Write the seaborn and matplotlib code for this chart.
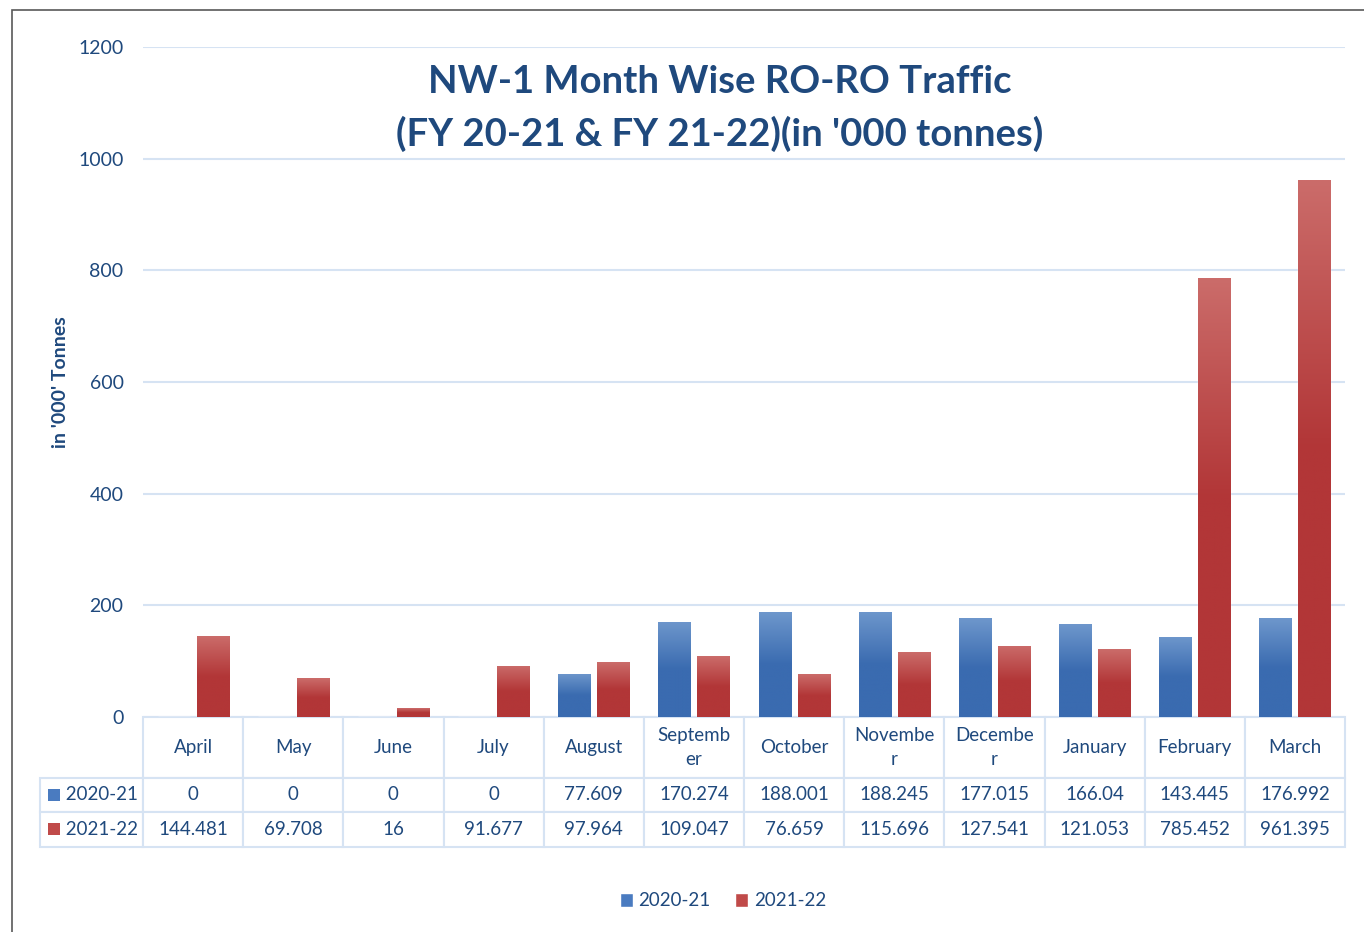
import numpy as np
import matplotlib.pyplot as plt
import matplotlib.colors as mcolors
from matplotlib.patches import Rectangle, Patch
import pandas as pd
import seaborn as sns

# chart data
months = ['April', 'May', 'June', 'July', 'August', 'September', 'October',
          'November', 'December', 'January', 'February', 'March']
month_labels = ['April', 'May', 'June', 'July', 'August', 'Septemb\ner', 'October',
                'Novembe\nr', 'Decembe\nr', 'January', 'February', 'March']
fy_2020_21 = [0, 0, 0, 0, 77.609, 170.274, 188.001, 188.245, 177.015, 166.04, 143.445, 176.992]
fy_2021_22 = [144.481, 69.708, 16, 91.677, 97.964, 109.047, 76.659, 115.696, 127.541, 121.053, 785.452, 961.395]
series = ['2020-21', '2021-22']
y_ticks = [0, 200, 400, 600, 800, 1000, 1200]

txt = '#1F497D'
grid_c = '#D6E3F3'
blue_top, blue_bot = '#6E97CC', '#3A6BB0'
red_top, red_bot = '#CB6C6A', '#B23637'

sns.set_theme(style='white')
plt.rcParams['font.family'] = ['Lato', 'DejaVu Sans']

df = pd.DataFrame({
    'month': months * 2,
    'value': fy_2020_21 + fy_2021_22,
    'series': [series[0]] * 12 + [series[1]] * 12,
})

fig = plt.figure(figsize=(13.64, 9.32), dpi=100)
ax = fig.add_axes([143 / 1364, 1 - 717 / 932, 1202 / 1364, 670 / 932])

sns.barplot(data=df, x='month', y='value', hue='series', order=months,
            palette=[blue_bot, red_bot], saturation=1, width=0.78, gap=0.18,
            legend=False, ax=ax)

# vertical gradient fill on each bar
def grad(top, bot):
    return mcolors.LinearSegmentedColormap.from_list('g', [bot, bot, top])

g = np.linspace(0, 1, 256).reshape(-1, 1)
for cont, cm in zip(ax.containers, [grad(blue_top, blue_bot), grad(red_top, red_bot)]):
    for p in cont.patches:
        h = p.get_height()
        if h <= 0:
            continue
        x0 = p.get_x()
        im = ax.imshow(g, cmap=cm, origin='lower', aspect='auto',
                       extent=[x0, x0 + p.get_width(), 0, h], zorder=p.get_zorder() + 0.1)
        im.set_clip_path(p)

ax.set_xlim(-0.5, 11.5)
ax.set_ylim(0, 1200)
ax.set_yticks(y_ticks)
ax.set_xticks([])
ax.set_xlabel('')
ax.set_ylabel('')
ax.tick_params(axis='y', length=0, pad=14, labelsize=14, labelcolor=txt)
for s in ax.spines.values():
    s.set_visible(False)
ax.grid(axis='y', color=grid_c, linewidth=1.5)
ax.set_axisbelow(True)

# data table below the plot
cells = [[''] + month_labels,
         ['     ' + series[0]] + [f'{v:g}' for v in fy_2020_21],
         ['     ' + series[1]] + [f'{v:g}' for v in fy_2021_22]]
lab_w = 103 / 1202
col_w = 1 / 12
tb = ax.table(cellText=cells, cellLoc='center',
              colWidths=[lab_w] + [col_w] * 12,
              bbox=[-lab_w, -130 / 670, 1 + lab_w, 130 / 670])
tb.auto_set_font_size(False)
row_h = [61 / 130, 34 / 130, 35 / 130]
for (r, c), cell in tb.get_celld().items():
    cell.set_edgecolor(grid_c)
    cell.set_linewidth(1.5)
    cell.set_height(row_h[r] * 130 / 670)
    cell.get_text().set_color(txt)
    cell.get_text().set_fontsize(13.5)
    cell.get_text().set_linespacing(1.45)
    if c == 0:
        cell.get_text().set_horizontalalignment('left')
        cell.PAD = 0.02
    if r == 0 and c == 0:
        cell.visible_edges = ''

# little series keys in the table row labels
for i, yc in enumerate([-(778 - 717 + 17) / 670, -(812 - 717 + 17) / 670]):
    kc = ['#4A7BC0', '#C04A49'][i]
    ax.add_patch(Rectangle((-95 / 1202, yc - 6 / 670), 12 / 1202, 12 / 670,
                           transform=ax.transAxes, clip_on=False,
                           facecolor=kc, edgecolor='none'))

# title and axis label
fig.text(720 / 1364, 1 - 82 / 932, 'NW-1 Month Wise RO-RO Traffic', ha='center', va='center',
         fontsize=27.5, fontweight='bold', color=txt)
fig.text(720 / 1364, 1 - 134 / 932, "(FY 20-21 & FY 21-22)(in '000 tonnes)", ha='center', va='center',
         fontsize=27.5, fontweight='bold', color=txt)
fig.text(60 / 1364, 1 - 382 / 932, "in '000' Tonnes", rotation=90, ha='center', va='center',
         fontsize=14, fontweight='bold', color=txt)

handles = [Patch(facecolor='#4A7BC0', label=series[0]),
           Patch(facecolor='#C04A49', label=series[1])]
fig.legend(handles=handles, loc='center', bbox_to_anchor=(723 / 1364, 1 - 901 / 932),
           ncol=2, frameon=False, fontsize=13.5, handlelength=0.7, handleheight=0.7,
           handletextpad=0.3, columnspacing=1.3, labelcolor=txt)

# chart frame (left and top edges visible)
fig.patches.append(Rectangle((12 / 1364, -0.01), 1.02, 1 - 10 / 932 + 0.01, transform=fig.transFigure,
                             fill=False, edgecolor='#595959', linewidth=1.2))

fig.savefig('out.png', dpi=100)
